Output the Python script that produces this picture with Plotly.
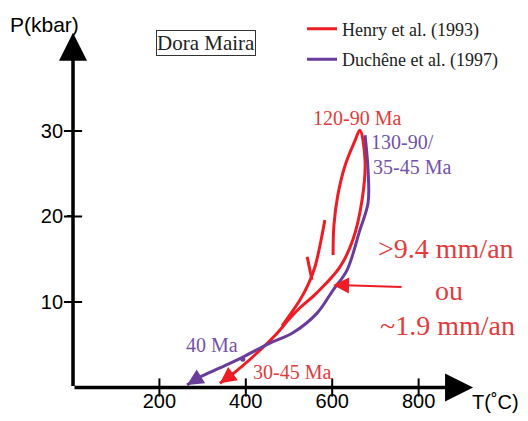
import plotly.graph_objects as go

# ---------------- data ----------------
# Duchene et al. (1997) P-T path (T in degC, P in kbar)
duchene_T = [676, 683, 683, 664, 634, 602, 565, 509, 456, 391, 340, 294, 264]
duchene_P = [29.5, 25.4, 21.6, 18.4, 13.7, 11.4, 8.7, 6.4, 5.2, 3.5, 2.3, 1.23, 0.3]
# 40 Ma point on the Duchene path
duchene_age_T = [393]
duchene_age_P = [3.3]

# Henry et al. (1993) P-T loop: prograde up, peak, then retrograde down
henry_loop_T = [340, 375, 421, 468, 502, 525, 565, 618, 648, 669, 676, 664,
                653, 630, 613, 604, 602]
henry_loop_P = [0.5, 1.8, 3.8, 6.1, 8.1, 9.3, 11.1, 14.1, 17.3, 21.9, 26.6, 30.1,
                28.9, 26.0, 22.5, 19.0, 15.5]
# second retrograde stroke of the Henry path
henry_retro_T = [583, 572, 560, 544, 525, 502, 484]
henry_retro_P = [19.6, 16.7, 14.1, 12.0, 10.2, 8.5, 7.2]
# short arrow-barb stroke
henry_barb_T = [542, 553]
henry_barb_P = [15.3, 12.6]

# exhumation-rate pointer (tail -> head)
rate_arrow_T = [764, 602]
rate_arrow_P = [11.75, 12.0]

# axes
x_ticks = [200, 400, 600, 800]
y_ticks = [10, 20, 30]
x_axis_end = 926
y_axis_end = 41.5

RED = "#ee1c25"
PURPLE = "#6a3d9a"
RED_TXT = "#e33b3b"
PURPLE_TXT = "#7453ab"
SERIF = "Liberation Serif, Times New Roman, serif"
SANS = "Liberation Sans, Arial, sans-serif"

fig = go.Figure()

fig.add_trace(go.Scatter(x=henry_loop_T, y=henry_loop_P, mode="lines",
                         line=dict(color=RED, width=3, shape="spline"),
                         name="Henry et al. (1993)", legendgroup="h"))
fig.add_trace(go.Scatter(x=henry_retro_T, y=henry_retro_P, mode="lines",
                         line=dict(color=RED, width=3, shape="spline"),
                         showlegend=False, legendgroup="h"))
fig.add_trace(go.Scatter(x=henry_barb_T, y=henry_barb_P, mode="lines",
                         line=dict(color=RED, width=3),
                         showlegend=False, legendgroup="h"))
fig.add_trace(go.Scatter(x=duchene_T, y=duchene_P, mode="lines",
                         line=dict(color=PURPLE, width=3, shape="spline"),
                         name="Duchêne et al. (1997)", legendgroup="d"))
fig.add_trace(go.Scatter(x=duchene_age_T, y=duchene_age_P, mode="markers",
                         marker=dict(color=PURPLE, size=5),
                         showlegend=False))

# crossing tick marks on both axes
fig.add_trace(go.Scatter(x=x_ticks, y=[0] * len(x_ticks), mode="markers",
                         marker=dict(symbol="line-ns-open", size=13, color="black",
                                     line=dict(color="black", width=2)),
                         showlegend=False, hoverinfo="skip"))
fig.add_trace(go.Scatter(x=[0] * len(y_ticks), y=y_ticks, mode="markers",
                         marker=dict(symbol="line-ew-open", size=13, color="black",
                                     line=dict(color="black", width=2)),
                         showlegend=False, hoverinfo="skip"))

ann = []
# axis arrows
ann.append(dict(x=x_axis_end, y=0, ax=0, ay=0, xref="x", yref="y",
                axref="x", ayref="y", text="", showarrow=True,
                arrowhead=2, arrowsize=1.6, arrowwidth=3.5, arrowcolor="black"))
ann.append(dict(x=0, y=y_axis_end, ax=0, ay=0, xref="x", yref="y",
                axref="x", ayref="y", text="", showarrow=True,
                arrowhead=2, arrowsize=1.6, arrowwidth=3.5, arrowcolor="black"))
# path arrowheads
ann.append(dict(x=duchene_T[-1], y=duchene_P[-1], ax=duchene_T[-2], ay=duchene_P[-2],
                xref="x", yref="y", axref="x", ayref="y", text="", showarrow=True,
                arrowhead=2, arrowsize=1.3, arrowwidth=2.5, arrowcolor=PURPLE))
ann.append(dict(x=henry_loop_T[0], y=henry_loop_P[0], ax=henry_loop_T[1], ay=henry_loop_P[1],
                xref="x", yref="y", axref="x", ayref="y", text="", showarrow=True,
                arrowhead=2, arrowsize=1.3, arrowwidth=2.5, arrowcolor=RED))
ann.append(dict(x=rate_arrow_T[1], y=rate_arrow_P[1], ax=rate_arrow_T[0], ay=rate_arrow_P[0],
                xref="x", yref="y", axref="x", ayref="y", text="", showarrow=True,
                arrowhead=2, arrowsize=1.6, arrowwidth=2, arrowcolor=RED))

def label(x, y, text, color, size, family=SERIF, xanchor="center", **kw):
    d = dict(x=x, y=y, xref="x", yref="y", text=text, showarrow=False,
             font=dict(family=family, size=size, color=color), xanchor=xanchor)
    d.update(kw)
    ann.append(d)

label(-67, 42.5, "P(kbar)", "black", 21, SANS)
label(977, -1.7, "T(˚C)", "black", 20, SANS)
label(308, 40.3, "Dora Maira", "#222222", 21, bordercolor="#333333",
      borderwidth=1, borderpad=0)
label(657, 31.5, "120-90 Ma", RED_TXT, 20)
label(685, 28.7, "130-90/", PURPLE_TXT, 20, xanchor="left")
label(690, 25.8, "35-45 Ma", PURPLE_TXT, 20, xanchor="left")
label(863, 16.3, ">9.4 mm/an", RED_TXT, 28)
label(870, 11.4, "ou", RED_TXT, 28)
label(866, 7.3, "~1.9 mm/an", RED_TXT, 28)
label(322, 5.0, "40 Ma", PURPLE_TXT, 20)
label(507, 1.8, "30-45 Ma", RED_TXT, 20)

fig.update_layout(
    width=528, height=421,
    margin=dict(l=0, r=0, t=0, b=0),
    paper_bgcolor="white", plot_bgcolor="white",
    annotations=ann,
    showlegend=True,
    legend=dict(x=0.572, y=0.975, xanchor="left", yanchor="top",
                font=dict(family=SERIF, size=18, color="#222222"),
                bgcolor="rgba(0,0,0,0)", tracegroupgap=4, itemwidth=30),
    xaxis=dict(range=[-169.0, 1053.2], showgrid=False, zeroline=False,
               showline=False, anchor="free", position=0.0796, automargin=False,
               tickmode="array", tickvals=x_ticks,
               ticktext=[str(v) for v in x_ticks], ticks="",
               tickfont=dict(family=SANS, size=20, color="black")),
    yaxis=dict(range=[-3.918, 45.32], showgrid=False, zeroline=False,
               showline=False, anchor="free", position=0.1383, automargin=False,
               tickmode="array", tickvals=y_ticks,
               ticktext=[str(v) for v in y_ticks], ticks="outside",
               ticklen=6, tickwidth=2, tickcolor="black",
               tickfont=dict(family=SANS, size=20, color="black")),
)

fig.write_html("out.html", config={"displayModeBar": False},
               post_script="document.body.style.margin='0';"
                           "document.body.style.overflow='hidden';")
